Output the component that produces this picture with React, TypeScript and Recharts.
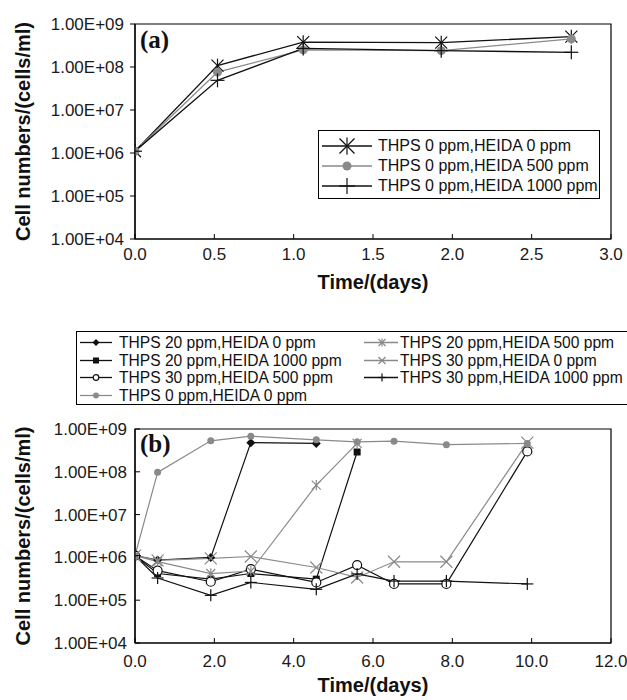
import React from 'react';
import { LineChart, Line, XAxis, YAxis, ReferenceArea, Legend } from 'recharts';

// ---------- Panel (a) data ----------
const timesA = [0, 0.52, 1.06, 1.93, 2.75];
const aT0H0 = [1.1e6, 1.08e8, 3.8e8, 3.7e8, 5.1e8];
const aT0H500 = [1.1e6, 7.6e7, 2.5e8, 2.4e8, 4.5e8];
const aT0H1000 = [1.1e6, 4.9e7, 2.7e8, 2.4e8, 2.2e8];
const labelsA = ['THPS 0 ppm,HEIDA 0 ppm', 'THPS 0 ppm,HEIDA 500 ppm', 'THPS 0 ppm,HEIDA 1000 ppm'];
const xTicksA = [0, 0.5, 1, 1.5, 2, 2.5, 3];

// ---------- Panel (b) data ----------
const timesB = [0, 0.57, 1.91, 2.92, 4.57, 5.6, 6.53, 7.85, 9.89];
const bT20H0 = [1.1e6, 8.7e5, 1.0e6, 4.8e8, 4.6e8, null, null, null, null];
const bT20H1000 = [1.1e6, 4.2e5, 3.1e5, 4.2e5, 3.1e5, 2.9e8, null, null, null];
const bT30H500 = [1.1e6, 4.9e5, 2.7e5, 5.3e5, 2.6e5, 6.6e5, 2.4e5, 2.4e5, 3.0e8];
const bT0H0 = [1.1e6, 9.7e7, 5.3e8, 6.8e8, 5.6e8, 5.0e8, 5.2e8, 4.3e8, 4.6e8];
const bT20H500 = [1.1e6, 8.0e5, 4.2e5, 4.8e5, 4.9e7, 4.6e8, null, null, null];
const bT30H0 = [1.1e6, 8.5e5, 9.5e5, 1.05e6, 5.8e5, 3.4e5, 7.9e5, 7.9e5, 4.8e8];
const bT30H1000 = [1.1e6, 3.3e5, 1.3e5, 2.6e5, 1.8e5, 4.1e5, 2.8e5, 2.8e5, 2.4e5];
const labelsB = [
  'THPS 20 ppm,HEIDA 0 ppm',
  'THPS 20 ppm,HEIDA 1000 ppm',
  'THPS 30 ppm,HEIDA 500 ppm',
  'THPS 0 ppm,HEIDA 0 ppm',
  'THPS 20 ppm,HEIDA 500 ppm',
  'THPS 30 ppm,HEIDA 0 ppm',
  'THPS 30 ppm,HEIDA 1000 ppm',
];
const xTicksB = [0, 2, 4, 6, 8, 10, 12];

const yTicks = [1e4, 1e5, 1e6, 1e7, 1e8, 1e9];

// ---------- built tables ----------
const dataA = timesA.map((t, i) => ({ t, s0: aT0H0[i], s1: aT0H500[i], s2: aT0H1000[i] }));
const dataB = timesB.map((t, i) => ({
  t,
  s0: bT20H0[i],
  s1: bT20H1000[i],
  s2: bT30H500[i],
  s3: bT0H0[i],
  s4: bT20H500[i],
  s5: bT30H0[i],
  s6: bT30H1000[i],
}));

const BLACK = '#111';
const GRAY = '#8a8a8a';
const SANS = '"Liberation Sans", Arial, Helvetica, sans-serif';
const SERIF = '"Liberation Serif", "Times New Roman", serif';

type Kind = 'star' | 'circle' | 'plus' | 'diamond' | 'square' | 'ocircle' | 'x';

function Marker({ kind, cx, cy, s, color }: { kind: Kind; cx: number; cy: number; s: number; color: string }) {
  const sw = 1.2;
  switch (kind) {
    case 'star':
      return (
        <g stroke={color} strokeWidth={sw}>
          <line x1={cx - s} y1={cy - s} x2={cx + s} y2={cy + s} />
          <line x1={cx - s} y1={cy + s} x2={cx + s} y2={cy - s} />
          <line x1={cx} y1={cy - s * 1.15} x2={cx} y2={cy + s * 1.15} />
        </g>
      );
    case 'x':
      return (
        <g stroke={color} strokeWidth={sw}>
          <line x1={cx - s} y1={cy - s} x2={cx + s} y2={cy + s} />
          <line x1={cx - s} y1={cy + s} x2={cx + s} y2={cy - s} />
        </g>
      );
    case 'plus':
      return (
        <g stroke={color} strokeWidth={sw}>
          <line x1={cx - s} y1={cy} x2={cx + s} y2={cy} />
          <line x1={cx} y1={cy - s} x2={cx} y2={cy + s} />
        </g>
      );
    case 'circle':
      return <circle cx={cx} cy={cy} r={s} fill={color} stroke="none" />;
    case 'ocircle':
      return <circle cx={cx} cy={cy} r={s} fill="#fff" stroke={color} strokeWidth={sw} />;
    case 'diamond':
      return <polygon points={`${cx},${cy - s} ${cx + s},${cy} ${cx},${cy + s} ${cx - s},${cy}`} fill={color} />;
    case 'square':
      return <rect x={cx - s} y={cy - s} width={2 * s} height={2 * s} fill={color} />;
    default:
      return null;
  }
}

const seriesA: { key: string; label: string; color: string; kind: Kind; s: number; ls: number }[] = [
  { key: 's0', label: labelsA[0], color: BLACK, kind: 'star', s: 6, ls: 7.5 },
  { key: 's1', label: labelsA[1], color: GRAY, kind: 'circle', s: 4.5, ls: 4.5 },
  { key: 's2', label: labelsA[2], color: BLACK, kind: 'plus', s: 7, ls: 8 },
];

const seriesB: { key: string; label: string; color: string; kind: Kind; s: number; ls: number }[] = [
  { key: 's0', label: labelsB[0], color: BLACK, kind: 'diamond', s: 4.5, ls: 3.5 },
  { key: 's1', label: labelsB[1], color: BLACK, kind: 'square', s: 3.5, ls: 3 },
  { key: 's2', label: labelsB[2], color: BLACK, kind: 'ocircle', s: 4.5, ls: 2.8 },
  { key: 's3', label: labelsB[3], color: GRAY, kind: 'circle', s: 3.5, ls: 3 },
  { key: 's4', label: labelsB[4], color: GRAY, kind: 'star', s: 4.5, ls: 3.5 },
  { key: 's5', label: labelsB[5], color: GRAY, kind: 'x', s: 6, ls: 3.5 },
  { key: 's6', label: labelsB[6], color: BLACK, kind: 'plus', s: 6, ls: 4 },
];

const yFmt = (v: number) => {
  const e = Math.round(Math.log10(v));
  return `1.00E+${String(e).padStart(2, '0')}`;
};
const xFmt = (v: number) => v.toFixed(1);

const makeDot = (kind: Kind, s: number, color: string) => (p: any) => {
  if (p == null || p.cx == null || p.cy == null || p.value == null) return <g key={`d${p?.index}`} />;
  return (
    <g key={`d${p.index}`}>
      <Marker kind={kind} cx={p.cx} cy={p.cy} s={s} color={color} />
    </g>
  );
};

const yTitle = (props: any) => {
  const vb = props?.viewBox || { x: 0, y: 0, width: 135, height: 215 };
  const cx = (vb.x || 0) + 29.5;
  const cy = vb.y + vb.height / 2;
  return (
    <text
      x={cx}
      y={cy}
      transform={`rotate(-90 ${cx} ${cy})`}
      textAnchor="middle"
      fontSize={20}
      fontWeight="bold"
      fontFamily={SANS}
      fill={BLACK}
    >
      Cell numbers/(cells/ml)
    </text>
  );
};

const xTitle = (dy: number) => (props: any) => {
  const vb = props?.viewBox || { x: 135, y: 239, width: 476, height: 40 };
  return (
    <text x={vb.x + vb.width / 2} y={vb.y + dy} textAnchor="middle" fontSize={20} fontWeight="bold" fontFamily={SANS} fill={BLACK}>
      Time/(days)
    </text>
  );
};

const panelTag = (txt: string, dy: number) => (props: any) => {
  const vb = props?.viewBox || { x: 135, y: 24 };
  return (
    <text x={vb.x + 5} y={vb.y + dy} fontSize={25} fontWeight="bold" fontFamily={SERIF} fill={BLACK}>
      {txt}
    </text>
  );
};

const LegendA = () => (
  <div
    style={{
      border: '1px solid #000',
      background: '#fff',
      width: 282,
      height: 69,
      boxSizing: 'border-box',
      paddingTop: 5,
      fontFamily: SANS,
      color: BLACK,
    }}
  >
    {seriesA.map((s) => (
      <div key={s.key} style={{ display: 'flex', alignItems: 'center', height: 20 }}>
        <svg width={59} height={20} style={{ flex: 'none' }}>
          <line x1={3} x2={53} y1={10} y2={10} stroke={s.color} strokeWidth={1.3} />
          <Marker kind={s.kind} cx={28} cy={10} s={s.ls} color={s.color} />
        </svg>
        <span style={{ fontSize: 16, whiteSpace: 'nowrap', lineHeight: '20px' }}>{s.label}</span>
      </div>
    ))}
  </div>
);

const legendRowB = (s: (typeof seriesB)[number], w: number, x1: number, x2: number, mx: number) => (
  <div key={s.key} style={{ display: 'flex', alignItems: 'center', height: 17.6 }}>
    <svg width={w} height={17} style={{ flex: 'none' }}>
      <line x1={x1} x2={x2} y1={8.5} y2={8.5} stroke={s.color} strokeWidth={1.3} />
      <Marker kind={s.kind} cx={mx} cy={8.5} s={s.ls} color={s.color} />
    </svg>
    <span style={{ fontSize: 15.6, whiteSpace: 'nowrap', lineHeight: '17.6px' }}>{s.label}</span>
  </div>
);

const LegendB = () => (
  <div
    style={{
      border: '1px solid #000',
      background: '#fff',
      width: 570,
      height: 74,
      boxSizing: 'border-box',
      paddingTop: 2,
      fontFamily: SANS,
      color: BLACK,
      display: 'flex',
    }}
  >
    <div style={{ width: 284, flex: 'none' }}>
      {seriesB.slice(0, 4).map((s) => legendRowB(s, 42, 3, 35, 19))}
    </div>
    <div style={{ flex: 'none' }}>
      {seriesB.slice(4).map((s) => legendRowB(s, 39, 3, 37, 21))}
    </div>
  </div>
);

const tickStyle = { fontSize: 17, fill: '#1a1a1a', fontFamily: SANS };

export default function App() {
  return (
    <div
      style={{
        position: 'absolute',
        left: 0,
        top: 0,
        width: 627,
        height: 700,
        overflow: 'hidden',
        background: '#fff',
        fontFamily: SANS,
      }}
    >
      <div style={{ position: 'absolute', left: 0, top: 0 }}>
        <LineChart width={627} height={300} data={dataA} margin={{ top: 24, right: 16, left: 0, bottom: 21 }}>
          <ReferenceArea
            x1={0}
            x2={3}
            y1={1e4}
            y2={1e9}
            fill="none"
            stroke="#000"
            strokeWidth={1.2}
            strokeOpacity={1}
            fillOpacity={0}
            ifOverflow="visible"
            label={panelTag('(a)', 24)}
          />
          <XAxis
            dataKey="t"
            type="number"
            domain={[0, 3]}
            ticks={xTicksA}
            tickFormatter={xFmt}
            allowDataOverflow
            height={40}
            tickSize={-5}
            tickMargin={14}
            axisLine={{ stroke: '#000', strokeWidth: 1.2 }}
            tickLine={{ stroke: '#000' }}
            tick={tickStyle}
            interval={0}
            label={xTitle(50)}
          />
          <YAxis
            type="number"
            scale="log"
            domain={[1e4, 1e9]}
            ticks={yTicks}
            tickFormatter={yFmt}
            allowDataOverflow
            width={135}
            tickSize={5}
            tickMargin={6}
            axisLine={{ stroke: '#000', strokeWidth: 1.2 }}
            tickLine={{ stroke: '#000' }}
            tick={tickStyle}
            interval={0}
            label={yTitle}
          />
          {seriesA.map((s) => (
            <Line
              key={s.key}
              dataKey={s.key}
              stroke={s.color}
              strokeWidth={1.3}
              isAnimationActive={false}
              dot={makeDot(s.kind, s.s, s.color)}
              activeDot={false}
              type="linear"
            />
          ))}
          <Legend
            layout="vertical"
            align="center"
            verticalAlign="middle"
            content={LegendA}
            wrapperStyle={{ left: 318, top: 130, width: 282, height: 69 }}
          />
        </LineChart>
      </div>
      <div style={{ position: 'absolute', left: 0, top: 300 }}>
        <LineChart width={627} height={400} data={dataB} margin={{ top: 129, right: 16, left: 0, bottom: 17 }}>
          <ReferenceArea
            x1={0}
            x2={12}
            y1={1e4}
            y2={1e9}
            fill="none"
            stroke="#000"
            strokeWidth={1.2}
            fillOpacity={0}
            ifOverflow="visible"
            label={panelTag('(b)', 23)}
          />
          <XAxis
            dataKey="t"
            type="number"
            domain={[0, 12]}
            ticks={xTicksB}
            tickFormatter={xFmt}
            allowDataOverflow
            height={40}
            tickSize={-5}
            tickMargin={17}
            axisLine={{ stroke: '#000', strokeWidth: 1.2 }}
            tickLine={{ stroke: '#000' }}
            tick={tickStyle}
            interval={0}
            label={xTitle(49)}
          />
          <YAxis
            type="number"
            scale="log"
            domain={[1e4, 1e9]}
            ticks={yTicks}
            tickFormatter={yFmt}
            allowDataOverflow
            width={135}
            tickSize={-5}
            tickMargin={13}
            axisLine={{ stroke: '#000', strokeWidth: 1.2 }}
            tickLine={{ stroke: '#000' }}
            tick={tickStyle}
            interval={0}
            label={yTitle}
          />
          {seriesB.map((s) => (
            <Line
              key={s.key}
              dataKey={s.key}
              stroke={s.color}
              strokeWidth={1.2}
              isAnimationActive={false}
              dot={makeDot(s.kind, s.s, s.color)}
              activeDot={false}
              type="linear"
              connectNulls={false}
            />
          ))}
          <Legend
            layout="vertical"
            align="center"
            verticalAlign="middle"
            content={LegendB}
            wrapperStyle={{ left: 76, top: 31, width: 570, height: 74 }}
          />
        </LineChart>
      </div>
    </div>
  );
}
